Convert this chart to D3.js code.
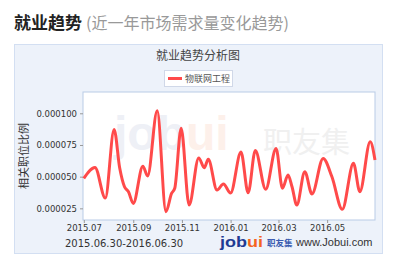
<!DOCTYPE html>
<html><head><meta charset="utf-8">
<script src="https://cdn.jsdelivr.net/npm/d3@7"></script>
<style>html,body{margin:0;padding:0;background:#fff;}svg{display:block;}</style>
</head><body><svg id="c" width="400" height="271"></svg>
<script>
const dates = ["2015-07-01","2015-07-15","2015-07-28","2015-08-08","2015-08-15","2015-08-21","2015-08-26","2015-09-01","2015-09-13","2015-09-19","2015-10-01","2015-10-12","2015-10-19","2015-10-23","2015-10-31","2015-11-10","2015-11-22","2015-11-29","2015-12-04","2015-12-15","2015-12-23","2016-01-01","2016-01-14","2016-01-23","2016-02-01","2016-02-14","2016-02-27","2016-03-06","2016-03-13","2016-03-18","2016-03-24","2016-04-03","2016-04-12","2016-04-26","2016-05-07","2016-05-20","2016-06-03","2016-06-11","2016-06-24","2016-06-30"];
const values = [0.0000487,0.0000572,0.0000331,0.0000873,0.0000568,0.0000420,0.0000381,0.0000289,0.0000583,0.0000505,0.0001020,0.0000223,0.0000368,0.0000408,0.0000881,0.0000276,0.0000648,0.0000570,0.0000637,0.0000394,0.0000443,0.0000371,0.0000694,0.0000373,0.0000707,0.0000400,0.0000723,0.0000408,0.0000513,0.0000420,0.0000276,0.0000539,0.0000363,0.0000644,0.0000499,0.0000242,0.0000605,0.0000381,0.0000775,0.0000631];
const yTicks = [0.000025,0.000050,0.000075,0.000100];
const yTickLabels = ["0.000025","0.000050","0.000075","0.000100"];
const xTicks = ["2015-07-01","2015-09-01","2015-11-01","2016-01-01","2016-03-01","2016-05-01"];
const xTickLabels = ["2015.07","2015.09","2015.11","2016.01","2016.03","2016.05"];
const seriesName = "物联网工程";

const parse = d3.timeParse("%Y-%m-%d");
const data = dates.map((d,i)=>({d:parse(d),v:values[i]}));
const svg = d3.select("#c");
const L=83,R=375,T=92,B=220;
const x = d3.scaleTime().domain([parse("2015-06-30"),parse("2016-06-30")]).range([L,R]);
const y = d3.scaleLinear().domain([0.0000158,0.0001168]).range([B,T]);

// headline
const h = svg.append("text").attr("x",14).attr("y",29).attr("font-family","Noto Sans CJK SC").attr("font-size",17);
h.append("tspan").attr("font-weight","bold").attr("fill","#222").text("就业趋势");
h.append("tspan").attr("fill","#999").attr("font-size",16).attr("dx",4).text("(近一年市场需求量变化趋势)");

// panel
svg.append("rect").attr("x",14.5).attr("y",44.5).attr("width",368).attr("height",209).attr("fill","#edf2fa").attr("stroke","#d3dff2");
svg.append("text").attr("x",198).attr("y",60).attr("text-anchor","middle").attr("font-family","Noto Sans CJK SC").attr("font-size",12).attr("fill","#444").text("就业趋势分析图");

// legend
svg.append("rect").attr("x",164.5).attr("y",70.5).attr("width",68).attr("height",16).attr("fill","#fff").attr("stroke","#d0d8e8");
svg.append("line").attr("x1",168).attr("x2",182).attr("y1",78.5).attr("y2",78.5).attr("stroke","#ff4a4a").attr("stroke-width",3);
svg.append("text").attr("x",185).attr("y",82).attr("font-family","Noto Sans CJK SC").attr("font-size",9).attr("fill","#555").text(seriesName);

// plot area
svg.append("rect").attr("x",L).attr("y",T).attr("width",R-L).attr("height",B-T).attr("fill","#fff").attr("stroke","#b9cbe6");

// watermark
const wm = svg.append("g").attr("font-family","Liberation Sans").attr("font-weight","bold");
const w1 = wm.append("text").attr("x",114).attr("y",150).attr("font-size",48);
w1.append("tspan").attr("fill","#eef0f6").text("job");
w1.append("tspan").attr("fill","#fdf0ea").text("ui");
wm.append("text").attr("x",263).attr("y",153).attr("font-family","Noto Sans CJK SC").attr("font-weight","normal").attr("font-size",29).attr("fill","#f0f0f0").text("职友集");

// axes
const yAxis = d3.axisLeft(y).tickValues(yTicks).tickSize(3).tickPadding(3).tickFormat((d,i)=>yTickLabels[i]);
const gy = svg.append("g").attr("transform",`translate(${L},0)`).call(yAxis);
gy.select(".domain").remove();
gy.selectAll("line").attr("stroke","#999");
gy.selectAll("text").attr("font-family","DejaVu Sans").attr("font-size",8.5).attr("fill","#333");

const xAxis = d3.axisBottom(x).tickValues(xTicks.map(parse)).tickSize(3).tickPadding(2).tickFormat((d,i)=>xTickLabels[i]);
const gx = svg.append("g").attr("transform",`translate(0,${B})`).call(xAxis);
gx.select(".domain").remove();
gx.selectAll("line").attr("stroke","#999");
gx.selectAll("text").attr("font-family","DejaVu Sans").attr("font-size",8.5).attr("fill","#333");

svg.append("text").attr("transform","translate(28,156) rotate(-90)").attr("text-anchor","middle").attr("font-family","Noto Sans CJK SC").attr("font-size",11).attr("fill","#333").text("相关职位比例");

// line
const line = d3.line().x(d=>x(d.d)).y(d=>y(d.v)).curve(d3.curveMonotoneX);
svg.append("path").datum(data).attr("d",line).attr("fill","none").attr("stroke","#ff4a4a").attr("stroke-width",3).attr("stroke-linejoin","round");

// footer
svg.append("text").attr("x",65).attr("y",247).attr("font-family","DejaVu Sans").attr("font-size",10).attr("fill","#333").text("2015.06.30-2016.06.30");
const lg = svg.append("text").attr("x",220).attr("y",246.5).attr("font-family","Liberation Sans").attr("font-weight","bold").attr("font-size",14).attr("textLength",43).attr("lengthAdjust","spacingAndGlyphs");
lg.append("tspan").attr("fill","#1f3b93").text("job");
lg.append("tspan").attr("fill","#f5641e").text("ui");
svg.append("text").attr("x",267).attr("y",246).attr("font-family","Noto Sans CJK SC").attr("font-weight","bold").attr("font-size",8.5).attr("fill","#3a5bb0").text("职友集");
svg.append("text").attr("x",296).attr("y",246).attr("font-family","Liberation Sans").attr("font-size",11).attr("fill","#333").text("www.Jobui.com");
</script></body></html>
